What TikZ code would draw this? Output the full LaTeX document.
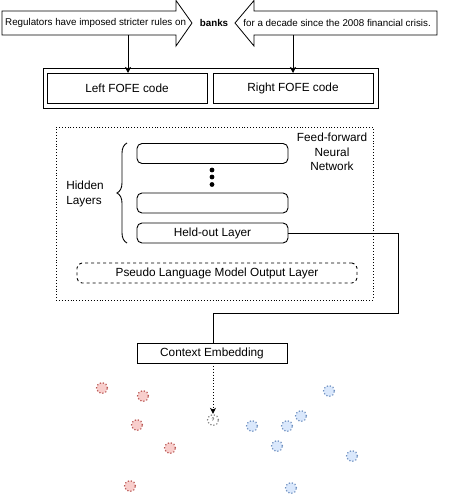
\documentclass[tikz,border=0pt]{standalone}
\usepackage{fontspec}
\setmainfont{Liberation Sans}
\usetikzlibrary{arrows.meta,decorations.pathreplacing}
\definecolor{redfill}{HTML}{F8CECC}
\definecolor{redline}{HTML}{B85450}
\definecolor{bluefill}{HTML}{DAE8FC}
\definecolor{blueline}{HTML}{6C8EBF}
\tikzset{
  big/.style={font=\fontsize{11.8}{14.5}\selectfont},
  small/.style={font=\fontsize{9.8}{11}\selectfont, inner sep=0pt},
  box/.style={draw, line width=0.9pt, inner sep=0pt, outer sep=0pt, big},
  layer/.style={box, rounded corners=5pt, minimum width=151pt, minimum height=20pt},
  blockarrow/.style={draw, line width=0.8pt, fill=white},
  conn/.style={line width=0.9pt, -{Stealth[length=6pt,width=6pt,inset=1.5pt]}},
  dotc/.style={circle, minimum size=11pt, inner sep=0pt, dotted, line width=1.2pt},
  redc/.style={dotc, draw=redline, fill=redfill},
  bluec/.style={dotc, draw=blueline, fill=bluefill},
}
\begin{document}
\begin{tikzpicture}[x=1pt,y=-1pt]
\useasboundingbox (0,0) rectangle (474,495);
% block arrows
\draw[blockarrow] (2,11) -- (176,11) -- (176,0.5) -- (192,23) -- (176,46) -- (176,35) -- (2,35) -- cycle;
\node[small, anchor=west] (ltext) at (5,23) {Regulators have imposed stricter rules on};
\draw[blockarrow] (437,11) -- (254,11) -- (254,0.5) -- (235,23) -- (254,46) -- (254,35) -- (437,35) -- cycle;
\node[small, anchor=east] (rtext) at (431,23) {for a decade since the 2008 financial crisis.};
\node[small, font=\fontsize{9.8}{11}\selectfont\bfseries] (banks) at (214,23) {banks};
\coordinate (la) at (128,35);
\coordinate (ra) at (293,35);
% FOFE boxes
\node[box, minimum width=335pt, minimum height=40pt] (fofe) at (210.5,88) {};
\node[box, minimum width=160pt, minimum height=30pt] (left) at (127,88) {Left FOFE code};
\node[box, minimum width=160pt, minimum height=30pt] (right) at (293,88) {Right FOFE code};
\draw[conn] (la) -- (left.north -| la);
\draw[conn] (ra) -- (right.north -| ra);
% network
\node[draw, dotted, line width=0.9pt, minimum width=317pt, minimum height=173pt, inner sep=0pt] (ffnn) at (214.5,213.5) {};
\node[big, align=center] (fflabel) at (332,152) {Feed-forward\\Neural\\Network};
\node[layer] (h1) at (212.5,153.5) {};
\node[layer] (h2) at (212.5,203) {};
\node[layer] (held) at (212.5,233) {Held-out Layer};
\fill (212,170) circle (2.4pt) (212,177) circle (2.4pt) (212,184.5) circle (2.4pt);
\draw[line width=0.9pt, decorate, decoration={brace, amplitude=10pt}] (127,243) -- (127,143);
\node[big, align=left] (hidden) at (85,194) {Hidden\\Layers};
\node[box, dashed, rounded corners=5pt, minimum width=280pt, minimum height=20pt] (pseudo) at (217,273) {Pseudo Language Model Output Layer};
% context embedding
\node[box, minimum width=150pt, minimum height=20pt] (ctx) at (212,353) {Context Embedding};
\coordinate (c1) at (398,233);
\coordinate (c2) at (398,313);
\coordinate (c3) at (213,313);
\draw[line width=0.9pt] (held.east) -- (c1) -- (c2) -- (c3) -- (ctx.north -| c3);
% points
\node[dotc, draw=gray, fill=white, font=\fontsize{5}{5}\selectfont] (q) at (213,420) {?};
\draw[conn, dotted] (ctx.south -| q) -- (q.north);
\node[redc] (r1) at (102,388) {};
\node[redc] (r2) at (143,396) {};
\node[redc] (r3) at (137,425) {};
\node[redc] (r4) at (170,448) {};
\node[redc] (r5) at (130,486) {};
\node[bluec] (b1) at (329,391) {};
\node[bluec] (b2) at (301,416) {};
\node[bluec] (b3) at (287,426) {};
\node[bluec] (b4) at (252,426) {};
\node[bluec] (b5) at (277,446) {};
\node[bluec] (b6) at (352,456) {};
\node[bluec] (b7) at (291,488) {};
\end{tikzpicture}
\end{document}
